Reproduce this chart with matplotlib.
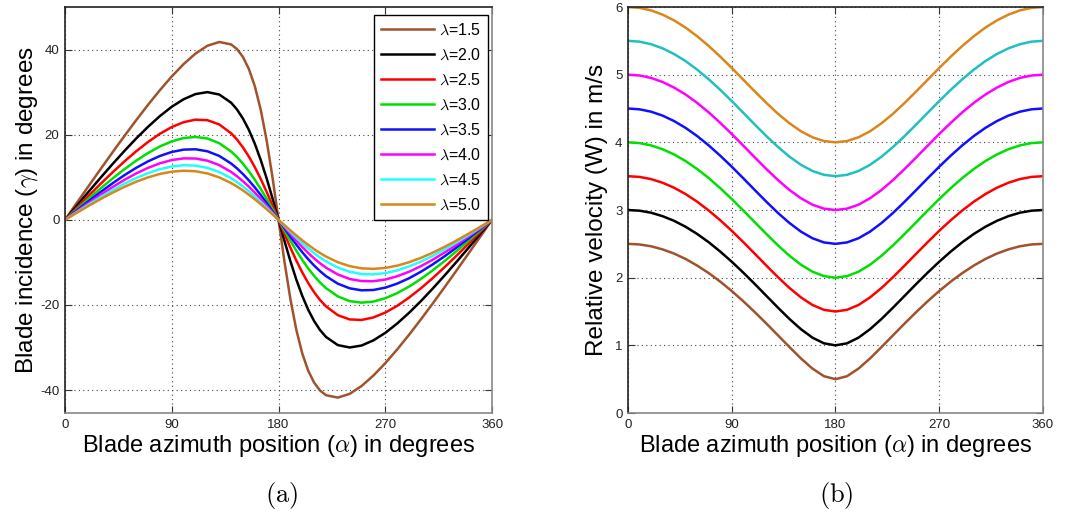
import matplotlib
matplotlib.use("Agg")
import matplotlib.pyplot as plt

plt.rcParams['font.family'] = ['Liberation Sans', 'DejaVu Sans']
plt.rcParams['mathtext.fontset'] = 'cm'
plt.rcParams['axes.unicode_minus'] = False

# azimuth positions (degrees)
alpha_a = [0, 10, 20, 30, 40, 50, 60, 70, 80, 90, 100, 110, 120, 130, 140, 145, 150, 155, 160, 165, 170, 175, 180,
           185, 190, 195, 200, 205, 210, 215, 220, 230, 240, 250, 260, 270, 280, 290, 300, 310, 320, 330, 340, 350, 360]
alpha_b = [0, 10, 20, 30, 40, 50, 60, 70, 80, 90, 100, 110, 120, 130, 140, 150, 160, 170, 180,
           190, 200, 210, 220, 230, 240, 250, 260, 270, 280, 290, 300, 310, 320, 330, 340, 350, 360]

tsr_labels = ['1.5', '2.0', '2.5', '3.0', '3.5', '4.0', '4.5', '5.0']
colors_a = ['#a0522d', '#000000', '#ff0000', '#00e000', '#1010ff', '#ff00ff', '#20ffff', '#d9861a']
colors_b = ['#a0522d', '#000000', '#ff0000', '#00e000', '#1010ff', '#ff00ff', '#20c0c0', '#d9861a']

# (a) blade incidence gamma in degrees
gamma_15 = [0, 4.00, 7.98, 11.93, 15.84, 19.67, 23.41, 27.03, 30.47, 33.69, 36.59, 39.06, 40.89, 41.78, 41.21, 40.11, 38.26, 35.44, 31.40, 25.85, 18.63, 9.82, 0,
            -9.82, -18.63, -25.85, -31.40, -35.44, -38.26, -40.11, -41.21, -41.78, -40.89, -39.06, -36.59, -33.69, -30.47, -27.03, -23.41, -19.67, -15.84, -11.93, -7.98, -4.00, 0]
gamma_20 = [0, 3.33, 6.64, 9.90, 13.08, 16.16, 19.11, 21.86, 24.38, 26.57, 28.33, 29.54, 30.00, 29.44, 27.52, 25.91, 23.79, 21.12, 17.87, 14.05, 9.71, 4.96, 0,
            -4.96, -9.71, -14.05, -17.87, -21.12, -23.79, -25.91, -27.52, -29.44, -30.00, -29.54, -28.33, -26.57, -24.38, -21.86, -19.11, -16.16, -13.08, -9.90, -6.64, -3.33, 0]
gamma_25 = [0, 2.85, 5.68, 8.45, 11.13, 13.70, 16.10, 18.29, 20.22, 21.80, 22.94, 23.53, 23.41, 22.41, 20.33, 18.85, 17.01, 14.85, 12.36, 9.58, 6.54, 3.32, 0,
            -3.32, -6.54, -9.58, -12.36, -14.85, -17.01, -18.85, -20.33, -22.41, -23.41, -23.53, -22.94, -21.80, -20.22, -18.29, -16.10, -13.70, -11.13, -8.45, -5.68, -2.85, 0]
gamma_30 = [0, 2.49, 4.96, 7.37, 9.69, 11.87, 13.90, 15.70, 17.24, 18.43, 19.21, 19.47, 19.11, 18.00, 16.05, 14.74, 13.18, 11.41, 9.42, 7.25, 4.92, 2.49, 0,
            -2.49, -4.92, -7.25, -9.42, -11.41, -13.18, -14.74, -16.05, -18.00, -19.11, -19.47, -19.21, -18.43, -17.24, -15.70, -13.90, -11.87, -9.69, -7.37, -4.96, -2.49, 0]
gamma_35 = [0, 2.22, 4.41, 6.53, 8.57, 10.48, 12.21, 13.74, 15.00, 15.94, 16.49, 16.57, 16.10, 15.01, 13.23, 12.07, 10.75, 9.25, 7.61, 5.83, 3.95, 1.99, 0,
            -1.99, -3.95, -5.83, -7.61, -9.25, -10.75, -12.07, -13.23, -15.01, -16.10, -16.57, -16.49, -15.94, -15.00, -13.74, -12.21, -10.48, -8.57, -6.53, -4.41, -2.22, 0]
gamma_40 = [0, 1.99, 3.96, 5.87, 7.68, 9.37, 10.89, 12.21, 13.27, 14.04, 14.43, 14.40, 13.90, 12.85, 11.24, 10.22, 9.06, 7.78, 6.38, 4.88, 3.30, 1.66, 0,
            -1.66, -3.30, -4.88, -6.38, -7.78, -9.06, -10.22, -11.24, -12.85, -13.90, -14.40, -14.43, -14.04, -13.27, -12.21, -10.89, -9.37, -7.68, -5.87, -3.96, -1.99, 0]
gamma_45 = [0, 1.81, 3.60, 5.32, 6.96, 8.47, 9.83, 10.98, 11.90, 12.53, 12.82, 12.74, 12.21, 11.23, 9.77, 8.86, 7.83, 6.71, 5.49, 4.19, 2.83, 1.43, 0,
            -1.43, -2.83, -4.19, -5.49, -6.71, -7.83, -8.86, -9.77, -11.23, -12.21, -12.74, -12.82, -12.53, -11.90, -10.98, -9.83, -8.47, -6.96, -5.32, -3.60, -1.81, 0]
gamma_50 = [0, 1.66, 3.30, 4.87, 6.36, 7.73, 8.95, 9.97, 10.78, 11.31, 11.53, 11.41, 10.89, 9.97, 8.63, 7.81, 6.90, 5.89, 4.82, 3.67, 2.48, 1.25, 0,
            -1.25, -2.48, -3.67, -4.82, -5.89, -6.90, -7.81, -8.63, -9.97, -10.89, -11.41, -11.53, -11.31, -10.78, -9.97, -8.95, -7.73, -6.36, -4.87, -3.30, -1.66, 0]

# (b) relative velocity W in m/s
w_15 = [2.500, 2.491, 2.464, 2.418, 2.356, 2.276, 2.179, 2.068, 1.942, 1.803, 1.652, 1.491, 1.323, 1.150, 0.976, 0.807, 0.657, 0.544, 0.500,
        0.544, 0.657, 0.807, 0.976, 1.150, 1.323, 1.491, 1.652, 1.803, 1.942, 2.068, 2.179, 2.276, 2.356, 2.418, 2.464, 2.491, 2.500]
w_20 = [3.000, 2.990, 2.960, 2.909, 2.840, 2.752, 2.646, 2.524, 2.386, 2.236, 2.075, 1.906, 1.732, 1.559, 1.391, 1.239, 1.114, 1.030, 1.000,
        1.030, 1.114, 1.239, 1.391, 1.559, 1.732, 1.906, 2.075, 2.236, 2.386, 2.524, 2.646, 2.752, 2.840, 2.909, 2.960, 2.990, 3.000]
w_25 = [3.500, 3.489, 3.457, 3.403, 3.329, 3.235, 3.123, 2.993, 2.849, 2.693, 2.526, 2.354, 2.179, 2.009, 1.849, 1.709, 1.597, 1.525, 1.500,
        1.525, 1.597, 1.709, 1.849, 2.009, 2.179, 2.354, 2.526, 2.693, 2.849, 2.993, 3.123, 3.235, 3.329, 3.403, 3.457, 3.489, 3.500]
w_30 = [4.000, 3.989, 3.955, 3.898, 3.821, 3.723, 3.606, 3.472, 3.323, 3.162, 2.993, 2.819, 2.646, 2.479, 2.325, 2.192, 2.089, 2.023, 2.000,
        2.023, 2.089, 2.192, 2.325, 2.479, 2.646, 2.819, 2.993, 3.162, 3.323, 3.472, 3.606, 3.723, 3.821, 3.898, 3.955, 3.989, 4.000]
w_35 = [4.500, 4.488, 4.453, 4.395, 4.314, 4.213, 4.093, 3.955, 3.803, 3.640, 3.469, 3.295, 3.123, 2.958, 2.809, 2.681, 2.583, 2.521, 2.500,
        2.521, 2.583, 2.681, 2.809, 2.958, 3.123, 3.295, 3.469, 3.640, 3.803, 3.955, 4.093, 4.213, 4.314, 4.395, 4.453, 4.488, 4.500]
w_40 = [5.000, 4.988, 4.952, 4.892, 4.809, 4.706, 4.583, 4.443, 4.288, 4.123, 3.951, 3.777, 3.606, 3.444, 3.297, 3.174, 3.079, 3.020, 3.000,
        3.020, 3.079, 3.174, 3.297, 3.444, 3.606, 3.777, 3.951, 4.123, 4.288, 4.443, 4.583, 4.706, 4.809, 4.892, 4.952, 4.988, 5.000]
w_45 = [5.500, 5.488, 5.450, 5.389, 5.305, 5.200, 5.074, 4.932, 4.776, 4.610, 4.437, 4.263, 4.093, 3.933, 3.789, 3.668, 3.577, 3.520, 3.500,
        3.520, 3.577, 3.668, 3.789, 3.933, 4.093, 4.263, 4.437, 4.610, 4.776, 4.932, 5.074, 5.200, 5.305, 5.389, 5.450, 5.488, 5.500]
w_50 = [6.000, 5.987, 5.950, 5.887, 5.802, 5.695, 5.568, 5.424, 5.267, 5.099, 4.926, 4.752, 4.583, 4.424, 4.283, 4.164, 4.075, 4.019, 4.000,
        4.019, 4.075, 4.164, 4.283, 4.424, 4.583, 4.752, 4.926, 5.099, 5.267, 5.424, 5.568, 5.695, 5.802, 5.887, 5.950, 5.987, 6.000]

gamma_series = [gamma_15, gamma_20, gamma_25, gamma_30, gamma_35, gamma_40, gamma_45, gamma_50]
w_series = [w_15, w_20, w_25, w_30, w_35, w_40, w_45, w_50]

x_ticks = [0, 90, 180, 270, 360]
gamma_ticks = [-40, -20, 0, 20, 40]
w_ticks = [0, 1, 2, 3, 4, 5, 6]


def style_axes(ax):
    ax.grid(True, color='#444444', linestyle=(0, (1, 3)), linewidth=0.8)
    ax.tick_params(direction='in', length=5, width=0.8, top=True, right=True,
                   labelsize=9.5, labelcolor='#222222', color='#333333', pad=4)
    for side in ['top', 'left']:
        ax.spines[side].set_color('#222222')
    for side in ['right', 'bottom']:
        ax.spines[side].set_color('#888888')
    for sp in ax.spines.values():
        sp.set_linewidth(1.2)
    ax.set_xlim(0, 360)
    ax.set_xticks(x_ticks)
    ax.set_xlabel(r'Blade azimuth position ($\alpha$) in degrees', fontsize=17, labelpad=2)


fig = plt.figure(figsize=(10.75, 5.19), dpi=100)
ax1 = fig.add_axes([0.0605, 0.2042, 0.3972, 0.7823])
ax2 = fig.add_axes([0.5842, 0.2042, 0.3860, 0.7823])

for vals, col, lab in zip(gamma_series, colors_a, tsr_labels):
    ax1.plot(alpha_a, vals, color=col, linewidth=1.8, label=r'$\lambda$=' + lab)
style_axes(ax1)
ax1.set_ylim(-45.4, 50)
ax1.set_yticks(gamma_ticks)
ax1.set_ylabel(r'Blade incidence ($\gamma$) in degrees', fontsize=17.5, labelpad=0)
leg = ax1.legend(loc='upper right', bbox_to_anchor=(0.991, 0.980), borderaxespad=0,
                 fancybox=False, edgecolor='black', framealpha=1, fontsize=11.5,
                 handlelength=3.3, labelspacing=0.6, borderpad=0.45, handletextpad=0.3)
leg.get_frame().set_linewidth(1.0)

for vals, col in zip(w_series, colors_b):
    ax2.plot(alpha_b, vals, color=col, linewidth=1.8)
style_axes(ax2)
ax2.set_ylim(0, 6)
ax2.set_yticks(w_ticks)
ax2.set_ylabel('Relative velocity (W) in m/s', fontsize=17.5, labelpad=5)

fig.text(0.262, 0.045, r'$\mathrm{(a)}$', ha='center', va='center', fontsize=19)
fig.text(0.778, 0.045, r'$\mathrm{(b)}$', ha='center', va='center', fontsize=19)

fig.savefig('out.png', dpi=100)
